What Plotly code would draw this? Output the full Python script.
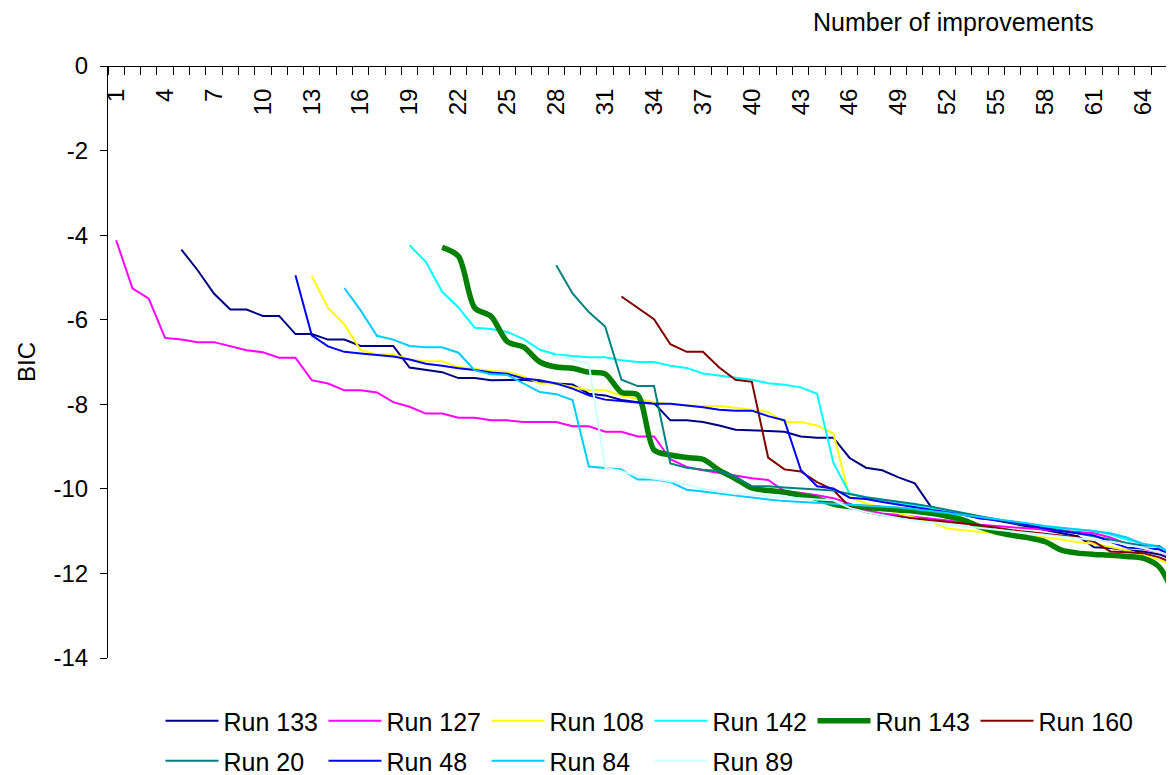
import plotly.graph_objects as go

# ---------------- data (BIC per improvement step) ----------------
categories = list(range(1, 67))
tick_labels = [str(c) for c in range(1, 65, 3)]
y_ticks = list(range(-14, 1, 2))
y_tick_text = [str(v) for v in y_ticks]  # plain hyphen-minus as in the original

run_names = ["Run 133", "Run 127", "Run 108", "Run 142", "Run 143", "Run 160",
             "Run 20", "Run 48", "Run 84", "Run 89"]

run133_start = 5
run133 = [-4.34, -4.83, -5.38, -5.76, -5.76, -5.91, -5.91, -6.34, -6.34, -6.47,
          -6.47, -6.62, -6.62, -6.62, -7.13, -7.18, -7.24, -7.38, -7.38, -7.43,
          -7.42, -7.42, -7.47, -7.51, -7.53, -7.75, -7.79, -7.90, -7.95, -7.97,
          -8.38, -8.38, -8.42, -8.50, -8.60, -8.61, -8.63, -8.65, -8.76, -8.79,
          -8.79, -9.27, -9.50, -9.56, -9.73, -9.87, -10.43, -10.52, -10.60, -10.68,
          -10.75, -10.82, -10.90, -10.97, -11.05, -11.12, -11.38, -11.40, -11.45, -11.48,
          -11.55, -11.70]

run127_start = 1
run127 = [-4.12, -5.26, -5.50, -6.43, -6.47, -6.53, -6.53, -6.63, -6.72, -6.77,
          -6.90, -6.90, -7.43, -7.51, -7.67, -7.67, -7.72, -7.95, -8.06, -8.22,
          -8.22, -8.32, -8.32, -8.38, -8.38, -8.42, -8.42, -8.42, -8.52, -8.52,
          -8.65, -8.65, -8.76, -8.76, -9.30, -9.48, -9.56, -9.62, -9.68, -9.75,
          -9.79, -10.05, -10.10, -10.15, -10.22, -10.35, -10.50, -10.58, -10.62, -10.66,
          -10.70, -10.75, -10.80, -10.85, -10.88, -10.91, -10.94, -10.97, -11.00, -11.02,
          -11.05, -11.15, -11.30, -11.42, -11.50, -11.65]

run108_start = 13
run108 = [-4.97, -5.72, -6.11, -6.72, -6.82, -6.82, -6.94, -6.98, -6.98, -7.12,
          -7.16, -7.21, -7.23, -7.34, -7.51, -7.51, -7.59, -7.67, -7.67, -7.79,
          -7.87, -7.95, -8.00, -8.03, -8.04, -8.04, -8.08, -8.13, -8.18, -8.42,
          -8.42, -8.50, -8.69, -10.20, -10.34, -10.46, -10.58, -10.68, -10.78, -10.94,
          -10.98, -11.02, -11.06, -11.10, -11.12, -11.15, -11.20, -11.26, -11.30, -11.37,
          -11.45, -11.57, -11.68, -11.82]

run142_start = 19
run142 = [-4.24, -4.63, -5.34, -5.71, -6.19, -6.22, -6.29, -6.46, -6.71, -6.82,
          -6.86, -6.89, -6.89, -6.96, -7.00, -7.00, -7.09, -7.14, -7.27, -7.32,
          -7.38, -7.42, -7.50, -7.54, -7.60, -7.75, -9.38, -10.11, -10.20, -10.27,
          -10.33, -10.40, -10.46, -10.52, -10.60, -10.66, -10.72, -10.78, -10.84, -10.90,
          -10.94, -10.97, -10.99, -11.08, -11.20, -11.30, -11.37, -11.60]

run143_start = 21
run143 = [-4.29, -4.50, -5.72, -5.92, -6.52, -6.65, -7.00, -7.12, -7.15, -7.24,
          -7.28, -7.72, -7.78, -9.08, -9.20, -9.26, -9.30, -9.56, -9.76, -9.98,
          -10.04, -10.08, -10.15, -10.23, -10.36, -10.42, -10.44, -10.47, -10.50, -10.53,
          -10.58, -10.65, -10.74, -10.90, -11.02, -11.10, -11.16, -11.25, -11.45, -11.52,
          -11.55, -11.57, -11.60, -11.64, -11.85, -12.60]

run160_start = 32
run160 = [-5.45, -5.72, -5.99, -6.58, -6.76, -6.76, -7.13, -7.42, -7.47, -9.26,
          -9.54, -9.59, -9.84, -10.02, -10.43, -10.55, -10.62, -10.66, -10.70, -10.74,
          -10.78, -10.82, -10.86, -10.92, -10.98, -11.02, -11.06, -11.10, -11.15, -11.25,
          -11.48, -11.50, -11.52, -11.62, -11.78]

run20_start = 28
run20 = [-4.71, -5.38, -5.82, -6.16, -7.42, -7.57, -7.57, -9.40, -9.50, -9.55,
         -9.58, -9.72, -9.94, -9.94, -9.97, -9.99, -10.02, -10.04, -10.12, -10.20,
         -10.25, -10.30, -10.36, -10.42, -10.50, -10.58, -10.65, -10.72, -10.80, -10.86,
         -10.93, -10.98, -11.05, -11.12, -11.20, -11.28, -11.34, -11.35, -11.62]

run48_start = 12
run48 = [-4.95, -6.37, -6.63, -6.76, -6.80, -6.84, -6.87, -6.94, -7.04, -7.09,
         -7.15, -7.19, -7.25, -7.28, -7.39, -7.43, -7.51, -7.63, -7.79, -7.89,
         -7.93, -7.96, -7.99, -7.99, -8.03, -8.07, -8.13, -8.15, -8.15, -8.28,
         -8.38, -9.55, -9.94, -9.99, -10.21, -10.24, -10.31, -10.37, -10.43, -10.49,
         -10.55, -10.62, -10.70, -10.74, -10.78, -10.86, -10.94, -11.00, -11.05, -11.10,
         -11.25, -11.39, -11.41, -11.43, -11.64]

run84_start = 15
run84 = [-5.25, -5.78, -6.38, -6.47, -6.62, -6.65, -6.65, -6.78, -7.20, -7.29,
         -7.31, -7.51, -7.71, -7.76, -7.90, -9.47, -9.50, -9.54, -9.78, -9.78,
         -9.84, -10.02, -10.06, -10.11, -10.15, -10.21, -10.25, -10.29, -10.31, -10.33,
         -10.35, -10.38, -10.40, -10.42, -10.44, -10.48, -10.52, -10.57, -10.62, -10.67,
         -10.72, -10.76, -10.82, -10.88, -10.92, -10.95, -11.00, -11.05, -11.15, -11.30,
         -11.38, -11.55]

run89_start = 28
run89 = [-6.84, -6.94, -7.05, -9.50, -9.58, -9.70, -9.76, -9.82, -9.90, -10.00,
         -10.07, -10.12, -10.14, -10.17, -10.20, -10.22, -10.25, -10.27, -10.45, -10.55,
         -10.62, -10.68, -10.76, -10.80, -10.84, -10.88, -10.92, -10.96, -11.00, -11.04,
         -11.08, -11.12, -11.16, -11.20, -11.25, -11.32, -11.40, -11.50, -11.60]

series = [
    (run133_start, run133), (run127_start, run127), (run108_start, run108),
    (run142_start, run142), (run143_start, run143), (run160_start, run160),
    (run20_start, run20), (run48_start, run48), (run84_start, run84),
    (run89_start, run89),
]

colors = ["#000080", "#FF00FF", "#FFFF00", "#00FFFF", "#008000", "#800000",
          "#008080", "#0000FF", "#00CCFF", "#CCFFFF"]
widths = [2, 2, 2, 2, 5.5, 2, 2, 2, 2, 2]

FONT = "Liberation Sans, Arial, sans-serif"

fig = go.Figure()
for i, (name, (start, vals)) in enumerate(zip(run_names, series)):
    xs = list(range(start, start + len(vals)))
    fig.add_trace(go.Scatter(
        x=xs, y=vals, mode="lines", name=name,
        line=dict(color=colors[i], width=widths[i],
                  shape="spline" if name == "Run 143" else "linear",
                  smoothing=0.8),
        legend="legend" if i < 6 else "legend2",
        showlegend=True,
    ))

# page body adds an 8 px offset, so the figure is 1166 x 767
W, H = 1166, 767

legend_common = dict(
    orientation="h", xanchor="left", yanchor="middle",
    xref="container", yref="container",
    entrywidth=95, entrywidthmode="pixels", itemwidth=53,
    font=dict(family=FONT, size=25, color="black"),
    bgcolor="rgba(0,0,0,0)", borderwidth=0, tracegroupgap=0,
)

fig.update_layout(
    width=W, height=H,
    margin=dict(l=100, r=0, t=58, b=117, autoexpand=False),
    paper_bgcolor="white", plot_bgcolor="white",
    font=dict(family=FONT, size=24, color="black"),
    legend=dict(x=152.5 / W, y=1 - 713 / H, **legend_common),
    legend2=dict(x=152.5 / W, y=1 - 753 / H, **legend_common),
    xaxis=dict(
        range=[0.5, 65.9], anchor="free", position=1, side="bottom",
        automargin=False,
        showline=True, linecolor="black", linewidth=1,
        tickmode="array", tickvals=[int(t) for t in tick_labels], ticktext=tick_labels,
        ticks="", tickangle=-90, ticklabelstandoff=12,
        tickfont=dict(family=FONT, size=24, color="black"),
        minor=dict(tickmode="array",
                   tickvals=[c - 0.5 for c in categories],
                   ticks="outside", ticklen=8, tickcolor="black", tickwidth=1),
        showgrid=False, zeroline=False,
    ),
    yaxis=dict(
        range=[-14, 0], domain=[0, 1], automargin=False,
        showline=True, linecolor="black", linewidth=1,
        tickmode="array", tickvals=y_ticks, ticktext=y_tick_text,
        ticks="outside", ticklen=7, tickcolor="black",
        ticklabelstandoff=7,
        tickfont=dict(family=FONT, size=24, color="black"),
        showgrid=False, zeroline=False,
    ),
    annotations=[
        dict(text="Number of improvements", xref="paper", yref="paper",
             x=0.7927, y=1.0743, xanchor="center", yanchor="middle",
             showarrow=False, font=dict(family=FONT, size=25, color="black")),
        dict(text="BIC", xref="paper", yref="paper",
             x=-0.0769, y=0.5, xanchor="center", yanchor="middle", textangle=-90,
             showarrow=False, font=dict(family=FONT, size=24, color="black")),
    ],
)

fig.write_html("out.html")
